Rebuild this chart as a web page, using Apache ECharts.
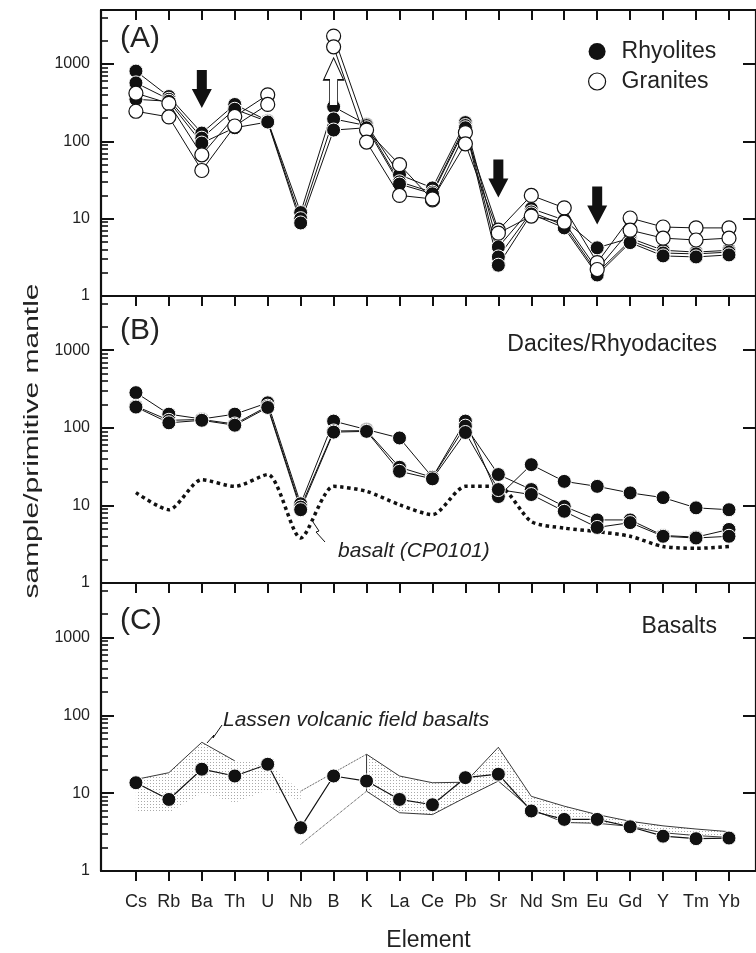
<!DOCTYPE html>
<html><head><meta charset="utf-8">
<script src="https://cdn.jsdelivr.net/npm/echarts@6/dist/echarts.min.js"></script>
<style>html,body{margin:0;padding:0;background:#fff;overflow:hidden}#c{width:756px;height:953px}</style>
</head><body><div id="c"></div>
<script>
// ---------- data ----------
const elements = ['Cs','Rb','Ba','Th','U','Nb','B','K','La','Ce','Pb','Sr','Nd','Sm','Eu','Gd','Y','Tm','Yb'];
const yTickValues = [1, 10, 100, 1000];
const yMinorTickValues = [2,3,4,5,6,7,8,9,20,30,40,50,60,70,80,90,200,300,400,500,600,700,800,900,2000,4000];
const yRightTickValues = [10, 100, 1000];

// (A) rhyolites (filled) and granites (open)
const rhyolite1 = [810, 380, 128, 300, 185, 12, 280, 165, 37, 25, 175, 4.3, 13.5, 9.6, 4.2, 5.6, 3.9, 3.7, 3.9];
const rhyolite2 = [570, 350, 110, 260, 180, 10, 195, 160, 30, 22, 160, 3.2, 12.2, 8.2, 2.0, 5.2, 3.6, 3.5, 3.7];
const rhyolite3 = [350, 330, 95, 150, 178, 8.8, 140, 150, 28, 21, 150, 2.5, 11.5, 7.6, 1.87, 4.9, 3.3, 3.2, 3.4];
const granite1  = [420, 310, 67, 210, 400, null, 2300, 140, 50, 17.5, 130, 7.1, 20, 13.8, 2.7, 10.2, 7.8, 7.6, 7.6];
const granite2  = [245, 207, 42, 158, 300, null, 1670, 98, 20, 18, 93, 6.5, 10.8, 9.0, 2.2, 7.1, 5.6, 5.3, 5.6];

// (B) dacites / rhyodacites
const dacite1 = [284, 150, 130, 150, 210, 10.5, 122, 95, 74, 23, 122, 13, 33.5, 20.4, 17.6, 14.5, 12.6, 9.3, 8.8];
const dacite2 = [190, 125, 128, 112, 190, 9.5, 91, 92, 31, 23, 105, 25, 16, 9.7, 6.5, 6.5, 4.1, 3.9, 4.9];
const dacite3 = [185, 116, 125, 108, 183, 8.8, 88, 90, 27.5, 22, 87, 16, 13.8, 8.4, 5.2, 6.0, 4.0, 3.8, 4.0];
const basaltCP0101 = [14.6, 8.8, 21.5, 17.6, 25, 3.8, 17.6, 15.2, 10.2, 7.6, 17.6, 17.6, 6.2, 5.1, 4.6, 4.0, 2.95, 2.8, 2.95];

// (C) basalts and Lassen volcanic field envelope
const basalt = [13.6, 8.3, 20.3, 16.6, 23.5, 3.6, 16.6, 14.3, 8.3, 7.1, 15.8, 17.5, 5.9, 4.6, 4.6, 3.7, 2.8, 2.6, 2.65];
const lassenUpperSolid  = [15, 18.3, 45, 26, null, null, null, 31.6, 16.6, 13.6, 13.8, 38.8, 9.1, 6.8, 5.3, 4.35, 3.8, 3.46, 3.2];
const lassenLowerSolid  = [null, null, null, null, null, null, null, 10.6, 5.6, 5.3, 8.8, 14.3, 6.2, 4.2, 4.1, 3.75, 3.1, 2.85, 2.7];
const lassenUpperDotted = [null, null, null, null, null, 10.6, null, 31.6, null, null, null, null, null, null, null, null, null, null, null];
const lassenLowerDotted = [null, null, null, null, null, 2.2, null, 10.6, null, null, null, null, null, null, null, null, null, null, null];
const lassenShadeUpper  = [15, 18.3, 45, 26, 24, 10.6, null, 31.6, 16.6, 13.6, 13.8, 38.8, 9.1, 6.8, 5.3, 4.35, 3.8, 3.46, 3.2];
const lassenShadeLower  = [5.6, 5.6, 10, 7.5, 11, 8, null, 10.6, 5.6, 5.3, 8.8, 14.3, 6.2, 4.2, 4.1, 3.75, 3.1, 2.85, 2.7];

// ---------- styling ----------
const FONT = 'Liberation Sans, Arial, Helvetica, sans-serif';
const INK = '#111';
const xTicks = elements.map((_, i) => i);
const pairs = arr => arr.map((v, i) => [i, v]);

const grids = [
  {left: 101, top: 10, width: 656, height: 286},
  {left: 101, top: 296, width: 656, height: 287},
  {left: 101, top: 583, width: 656, height: 288}
];

function xAxisCfg(gridIndex, extra) {
  return Object.assign({
    type: 'value', gridIndex, min: -1.06, max: 18.82, position: 'bottom',
    axisLine: {show: true, onZero: false, lineStyle: {color: INK, width: 2.2}},
    axisTick: {show: true, inside: false, length: 10, customValues: xTicks, lineStyle: {color: INK, width: 2}},
    axisLabel: {show: false},
    splitLine: {show: false}
  }, extra || {});
}
function yAxes(gridIndex) {
  const base = {type: 'log', logBase: 10, gridIndex, min: 1, max: 5000, splitLine: {show: false}};
  return [
    Object.assign({}, base, {
      position: 'left',
      axisLine: {show: true, onZero: false, lineStyle: {color: INK, width: 2.2}},
      axisTick: {show: true, inside: true, length: 13, customValues: yTickValues, lineStyle: {color: INK, width: 2}},
      axisLabel: {show: true, customValues: yTickValues, fontSize: 16, color: '#222', fontFamily: FONT, margin: 11,
        formatter: v => String(Math.round(v))}
    }),
    Object.assign({}, base, {
      position: 'left',
      axisLine: {show: false, onZero: false},
      axisTick: {show: true, inside: true, length: 7, customValues: yMinorTickValues, lineStyle: {color: INK, width: 1.6}},
      axisLabel: {show: false}
    }),
    Object.assign({}, base, {
      position: 'right',
      axisLine: {show: true, onZero: false, lineStyle: {color: INK, width: 2.2}},
      axisTick: {show: true, inside: true, length: 13, customValues: yRightTickValues, lineStyle: {color: INK, width: 2}},
      axisLabel: {show: false}
    })
  ];
}

const filledStyle = {color: INK, borderColor: '#fff', borderWidth: 1};
const openStyle = {color: '#fff', borderColor: INK, borderWidth: 1.2};

function pointLine(name, vals, xi, yi, item, extra) {
  return Object.assign({
    type: 'line', name, xAxisIndex: xi, yAxisIndex: yi, data: pairs(vals),
    symbol: 'circle', symbolSize: 14, itemStyle: item, connectNulls: false,
    lineStyle: {color: INK, width: 1}, emphasis: {disabled: true}, z: 3
  }, extra || {});
}
function plainLine(data, xi, yi, style, extra) {
  return Object.assign({
    type: 'line', xAxisIndex: xi, yAxisIndex: yi, data,
    symbol: 'none', lineStyle: style, emphasis: {disabled: true}, silent: true, z: 2
  }, extra || {});
}

// stipple pattern
const pc = document.createElement('canvas');
pc.width = 3; pc.height = 3;
const pg = pc.getContext('2d');
pg.fillStyle = '#a9a9a9';
pg.fillRect(0, 0, 1, 1);
const stipple = {image: pc, repeat: 'repeat'};

const shadeSeries = {
  type: 'custom', xAxisIndex: 3, yAxisIndex: 6, coordinateSystem: 'cartesian2d',
  data: [[0, 10]], silent: true, z: 1, clip: false,
  renderItem: (params, api) => {
    const runs = [];
    let cur = [];
    lassenShadeUpper.forEach((v, i) => {
      if (v == null || lassenShadeLower[i] == null) { if (cur.length) runs.push(cur); cur = []; }
      else cur.push(i);
    });
    if (cur.length) runs.push(cur);
    const children = runs.map(run => {
      const pts = run.map(i => api.coord([i, lassenShadeUpper[i]]));
      for (let k = run.length - 1; k >= 0; k--) pts.push(api.coord([run[k], lassenShadeLower[run[k]]]));
      return {type: 'polygon', shape: {points: pts}, style: {fill: stipple, stroke: null}};
    });
    return {type: 'group', children};
  }
};

const downArrow = 'path://M5,0 L15,0 L15,20 L20,20 L10,40 L0,20 L5,20 Z';
const upArrow = 'path://M10,0 L20,22 L14,22 L14,48 L6,48 L6,22 L0,22 Z';

const series = [
  // (A)
  pointLine('Rhyolites', rhyolite1, 0, 0, filledStyle, {
    markPoint: {
      silent: true, label: {show: false},
      data: [
        {coord: [2, 477], symbol: downArrow, symbolSize: [20, 38], itemStyle: {color: INK}},
        {coord: [11, 33], symbol: downArrow, symbolSize: [20, 38], itemStyle: {color: INK}},
        {coord: [14, 14.8], symbol: downArrow, symbolSize: [20, 38], itemStyle: {color: INK}},
        {coord: [6, 587], symbol: upArrow, symbolSize: [20, 48], itemStyle: {color: '#fff', borderColor: INK, borderWidth: 1.2}}
      ]
    }
  }),
  pointLine('Rhyolites', rhyolite2, 0, 0, filledStyle),
  pointLine('Rhyolites', rhyolite3, 0, 0, filledStyle),
  pointLine('Granites', granite1, 0, 0, openStyle, {z: 4}),
  pointLine('Granites', granite2, 0, 0, openStyle, {z: 4}),
  // (B)
  plainLine(pairs(basaltCP0101), 2, 3, {color: INK, width: 3.5, type: 'dotted'}, {smooth: 0.25}),
  pointLine('Dacites', dacite1, 2, 3, filledStyle),
  pointLine('Dacites', dacite2, 2, 3, filledStyle),
  pointLine('Dacites', dacite3, 2, 3, filledStyle),
  // (C)
  shadeSeries,
  plainLine(pairs(lassenUpperSolid), 3, 6, {color: '#222', width: 0.9}),
  plainLine(pairs(lassenLowerSolid), 3, 6, {color: '#222', width: 0.9}),
  plainLine(pairs(lassenUpperDotted), 3, 6, {color: '#222', width: 0.9, type: 'dotted'}, {connectNulls: true}),
  plainLine(pairs(lassenLowerDotted), 3, 6, {color: '#222', width: 0.9, type: 'dotted'}, {connectNulls: true}),
  plainLine([[7, lassenUpperSolid[7]], [7, lassenLowerSolid[7]]], 3, 6, {color: '#222', width: 0.9}),
  pointLine('Basalts', basalt, 3, 6, filledStyle, {lineStyle: {color: INK, width: 1.2}})
];

const option = {
  backgroundColor: '#fff',
  animation: false,
  textStyle: {fontFamily: FONT},
  grid: grids,
  xAxis: [
    xAxisCfg(0),
    xAxisCfg(0, {position: 'top', axisTick: {show: true, inside: true, length: 10, customValues: xTicks, lineStyle: {color: INK, width: 2}}}),
    xAxisCfg(1),
    xAxisCfg(2, {
      axisLabel: {show: true, customValues: xTicks, formatter: v => elements[Math.round(v)], fontSize: 18, color: '#222', fontFamily: FONT, margin: 22},
      name: 'Element', nameLocation: 'middle', nameGap: 58,
      nameTextStyle: {fontSize: 23, color: '#222', fontFamily: FONT}
    })
  ],
  yAxis: [].concat(yAxes(0), yAxes(1), yAxes(2)),
  legend: {
    show: true, orient: 'vertical', left: 583, top: 35, itemWidth: 17, itemHeight: 17, itemGap: 7,
    selectedMode: false,
    textStyle: {fontSize: 23, color: '#222', fontFamily: FONT, lineHeight: 23, padding: [0, 0, 0, 11]},
    data: [
      {name: 'Rhyolites', icon: 'circle', itemStyle: {color: INK, borderWidth: 0}},
      {name: 'Granites', icon: 'circle', itemStyle: {color: '#fff', borderColor: INK, borderWidth: 1.2}}
    ]
  },
  graphic: [
    {type: 'text', left: 120, top: 24, style: {text: '(A)', fill: '#222', font: '30px ' + FONT}},
    {type: 'text', left: 120, top: 316, style: {text: '(B)', fill: '#222', font: '30px ' + FONT}},
    {type: 'text', left: 120, top: 606, style: {text: '(C)', fill: '#222', font: '30px ' + FONT}},
    {type: 'text', x: 717, y: 345, style: {text: 'Dacites/Rhyodacites', font: '23px ' + FONT, fill: '#222', textAlign: 'right', textVerticalAlign: 'middle'}},
    {type: 'text', x: 717, y: 627, style: {text: 'Basalts', font: '23px ' + FONT, fill: '#222', textAlign: 'right', textVerticalAlign: 'middle'}},
    {type: 'text', x: 338, y: 551, style: {text: 'basalt (CP0101)', font: 'italic 21px ' + FONT, fill: '#222', textAlign: 'left', textVerticalAlign: 'middle'}},
    {type: 'text', x: 223, y: 720, style: {text: 'Lassen volcanic field basalts', font: 'italic 21px ' + FONT, fill: '#222', textAlign: 'left', textVerticalAlign: 'middle'}},
    {type: 'polyline', shape: {points: [[313, 522], [319, 531], [316, 532], [325, 542]]}, style: {stroke: INK, lineWidth: 1, fill: null}},
    {type: 'polyline', shape: {points: [[207, 743], [214, 735], [213, 738], [222, 725]]}, style: {stroke: INK, lineWidth: 1, fill: null}},
    {type: 'text', x: 32, y: 441, rotation: Math.PI / 2, scaleX: 1.5, scaleY: 1,
      style: {text: 'sample/primitive mantle', font: '20px ' + FONT, fill: '#222', textAlign: 'center', textVerticalAlign: 'middle'}}
  ],
  series
};

const chart = echarts.init(document.getElementById('c'), null, {renderer: 'canvas'});
chart.setOption(option);
</script>
</body></html>
